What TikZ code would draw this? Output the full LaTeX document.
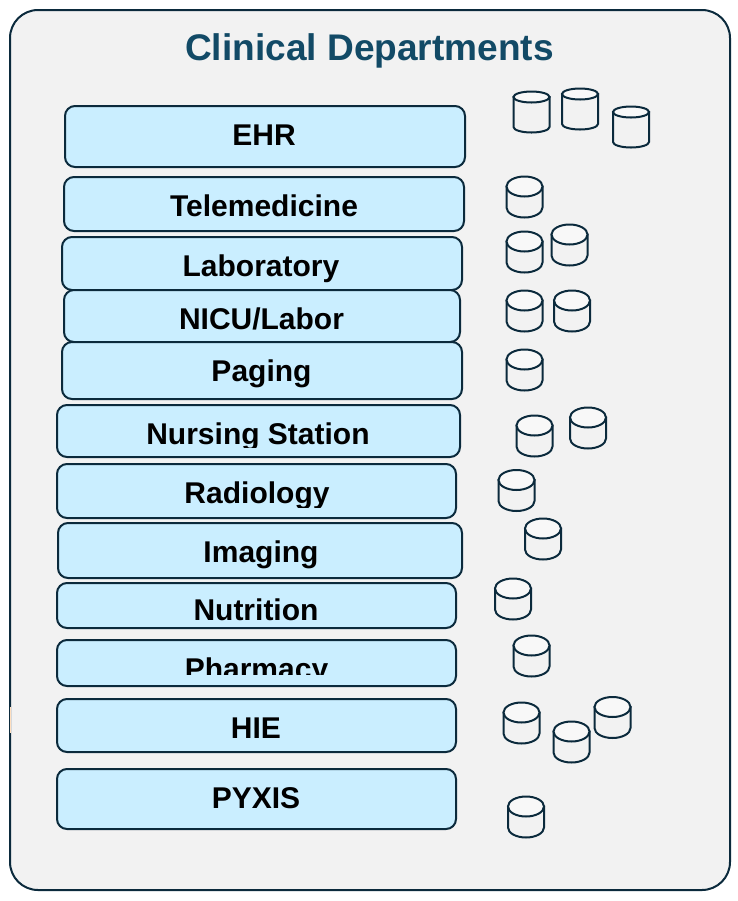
\documentclass[tikz,border=0pt]{standalone}
\usepackage{fontspec}
\setmainfont{Liberation Sans}
\usepackage{xcolor}
\definecolor{colorBorder}{HTML}{0B2A3C}
\definecolor{colorPanel}{HTML}{F2F2F2}
\definecolor{colorDept}{HTML}{CAEEFF}
\definecolor{colorTitle}{HTML}{124A66}
\definecolor{colorTop}{HTML}{F8F8F8}
\tikzset{
  deptbox/.style={draw=colorBorder, fill=colorDept, line width=1.5pt, rounded corners=7.5pt, inner sep=0pt},
  deptlabel/.style={anchor=base, inner sep=0pt, font=\fontsize{22.5}{27}\bfseries, text=black},
  pics/dbstore/.style={code={
    \draw[draw=colorBorder, fill=colorPanel, line width=1.5pt] (-18,{-20.5+#1}) -- (-18,{20.5-#1}) arc[start angle=180, end angle=0, x radius=18, y radius=#1] -- (18,{-20.5+#1}) -- cycle;
    \draw[draw=colorBorder, fill=colorTop, line width=1.5pt] (0,{-20.5+#1}) ellipse [x radius=18, y radius=#1];
  }}
}
\begin{document}
\begin{tikzpicture}[x=0.75pt, y=-0.75pt]
\useasboundingbox (0,0) rectangle (738,901);
\node[draw=colorBorder, fill=colorPanel, line width=1.5pt, rounded corners=21pt, inner sep=0pt, minimum width=540pt, minimum height=660pt] (panel) at (370,450) {};
\fill[orange!25] (10,707) rectangle (11.3,733);
\node[anchor=base, inner sep=0pt, font=\fontsize{27.8}{33}\bfseries, text=colorTitle] (title) at (369.5,60) {Clinical Departments};
% department boxes
\node[deptbox, minimum width=300pt, minimum height=45.75pt] (boxEHR) at (265,136.5) {};
\node[deptbox, minimum width=300pt, minimum height=40.5pt] (boxTele) at (264,204) {};
\node[deptbox, minimum width=300pt, minimum height=39.75pt] (boxLab) at (262,263.5) {};
\node[deptbox, minimum width=297pt, minimum height=39pt] (boxNicu) at (262,316) {};
\node[deptbox, minimum width=300pt, minimum height=42.75pt] (boxPaging) at (262,370.5) {};
\node[deptbox, minimum width=302.25pt, minimum height=39pt] (boxNursing) at (258.5,431) {};
\node[deptbox, minimum width=299.25pt, minimum height=40.5pt] (boxRadio) at (256.5,491) {};
\node[deptbox, minimum width=303pt, minimum height=41.25pt] (boxImaging) at (260,550.5) {};
\node[deptbox, minimum width=299.25pt, minimum height=33.75pt] (boxNutri) at (256.5,605.5) {};
\node[deptbox, minimum width=299.25pt, minimum height=34.5pt] (boxPharm) at (256.5,663) {};
\node[deptbox, minimum width=299.25pt, minimum height=39.75pt] (boxHIE) at (256.5,725.5) {};
\node[deptbox, minimum width=299.25pt, minimum height=45pt] (boxPyxis) at (256.5,799) {};
% department names
\node[deptlabel] (txtEHR) at (264,145) {EHR};
\node[deptlabel] (txtTele) at (264,216) {Telemedicine};
\node[deptlabel] (txtLab) at (261,276) {Laboratory};
\node[deptlabel] (txtNicu) at (261.5,329) {NICU/Labor};
\node[deptlabel] (txtPaging) at (261.5,381) {Paging};
\begin{scope}
\clip (57,405) rectangle (460,447);
\node[deptlabel] (txtNursing) at (258,444) {Nursing Station};
\end{scope}
\begin{scope}
\clip (57,464) rectangle (456,507);
\node[deptlabel] (txtRadio) at (257,503) {Radiology};
\end{scope}
\node[deptlabel] (txtImaging) at (261,562) {Imaging};
\begin{scope}
\clip (57,583) rectangle (456,620);
\node[deptlabel] (txtNutri) at (256,620.5) {Nutrition};
\end{scope}
\begin{scope}
\clip (57,640) rectangle (456,674);
\node[deptlabel] (txtPharm) at (256.5,679) {Pharmacy};
\end{scope}
\node[deptlabel] (txtHIE) at (256,738) {HIE};
\node[deptlabel] (txtPyxis) at (256,808) {PYXIS};
% data stores
\pic (dbA) at (531.5,112) {dbstore=5.5};
\pic (dbB) at (580,109) {dbstore=5.5};
\pic (dbC) at (631,127) {dbstore=5.5};
\pic (dbD) at (524.5,197) {dbstore=10};
\pic (dbE) at (524.5,252) {dbstore=10};
\pic (dbF) at (569.5,245) {dbstore=10};
\pic (dbG) at (524.5,311) {dbstore=10};
\pic (dbH) at (572,311) {dbstore=10};
\pic (dbI) at (524.5,370) {dbstore=10};
\pic (dbJ) at (534.5,436) {dbstore=10};
\pic (dbK) at (588,428) {dbstore=10};
\pic (dbL) at (516.5,490.5) {dbstore=10};
\pic (dbM) at (543,539) {dbstore=10};
\pic (dbN) at (513,599) {dbstore=10};
\pic (dbO) at (531.5,656) {dbstore=10};
\pic (dbP) at (521.5,723) {dbstore=10};
\pic (dbQ) at (571.5,742) {dbstore=10};
\pic (dbR) at (612.5,717.5) {dbstore=10};
\pic (dbS) at (526,817) {dbstore=10};
\end{tikzpicture}
\end{document}
